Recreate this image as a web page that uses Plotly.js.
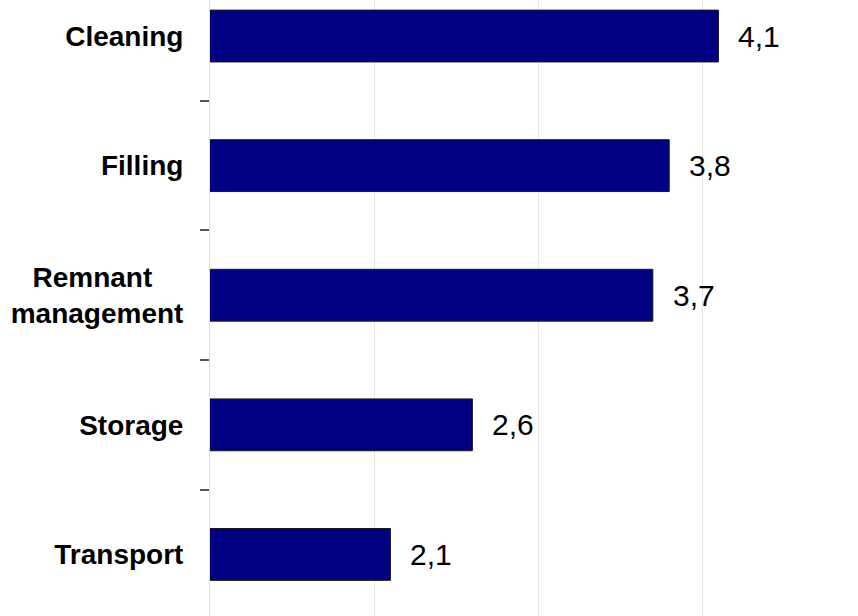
<!DOCTYPE html>
<html>
<head>
<meta charset="utf-8">
<script src="https://cdn.plot.ly/plotly-3.0.1.min.js"></script>
<style>html,body{margin:0;padding:0;background:#fff;}#chart{width:858px;height:616px;}</style>
</head>
<body>
<div id="chart"></div>
<script>
// Data
const categories = ["Cleaning", "Filling", "Remnant management", "Storage", "Transport"];
const tickLabels = ["Cleaning", "Filling", "Remnant\u00A0\u00A0\u00A0\u00A0<br>management", "Storage", "Transport"];
const values = [4.1, 3.8, 3.7, 2.6, 2.1];
const valueLabels = values.map(v => v.toFixed(1).replace('.', ','));

const trace = {
  type: 'bar',
  orientation: 'h',
  x: values,
  y: categories,
  width: 0.4,
  marker: {color: '#000080', line: {color: '#1a1a1a', width: 1}},
  hoverinfo: 'none'
};

const annotations = values.map((v, i) => ({
  x: v, y: categories[i], xref: 'x', yref: 'y',
  text: valueLabels[i], showarrow: false,
  xanchor: 'left', yanchor: 'middle', xshift: 18,
  font: {family: '"Liberation Sans", Arial, sans-serif', size: 30, color: '#000'}
}));

const layout = {
  width: 858, height: 616,
  margin: {l: 210, r: 0, t: 0, b: 0, pad: 0},
  paper_bgcolor: '#fff', plot_bgcolor: '#fff',
  showlegend: false,
  xaxis: {
    range: [1, 4.951],
    dtick: 1, tick0: 0,
    showgrid: true, gridcolor: '#e6e6e6', gridwidth: 1,
    zeroline: false, showline: false, showticklabels: false, ticks: ''
  },
  yaxis: {
    type: 'category',
    categoryorder: 'array', categoryarray: categories,
    tickvals: categories, ticktext: tickLabels,
    range: [4.475, -0.278],
    tickson: 'boundaries',
    ticks: 'outside', ticklen: 9, tickwidth: 2, tickcolor: '#555',
    ticklabelstandoff: 20,
    showgrid: false, zeroline: false,
    showline: true, linecolor: '#dcdcdc', linewidth: 1,
    tickfont: {family: '"Liberation Sans", Arial, sans-serif', size: 28, color: '#000', weight: 'bold'}
  },
  annotations: annotations
};

Plotly.newPlot('chart', [trace], layout, {displayModeBar: false, staticPlot: true});
</script>
</body>
</html>
